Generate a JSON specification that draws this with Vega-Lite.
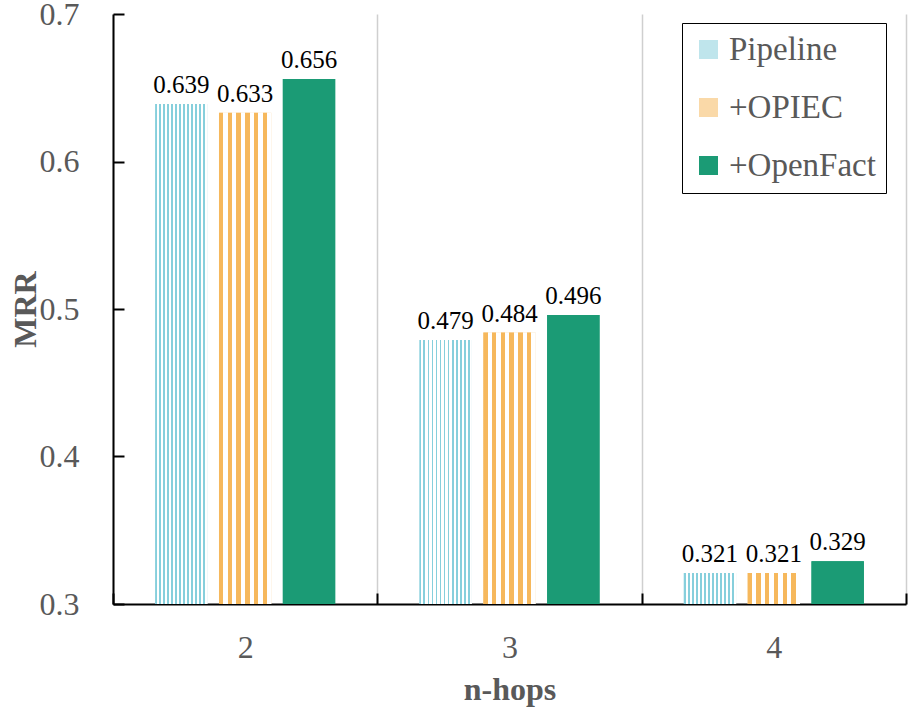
{
  "$schema": "https://vega.github.io/schema/vega-lite/v6.json",
  "width": 793,
  "height": 590,
  "autosize": {"type": "none"},
  "padding": {"left": 113, "top": 14, "right": 4, "bottom": 109},
  "background": "white",
  "config": {
    "view": {"stroke": null},
    "font": "Liberation Serif"
  },
  "data": {
    "values": [
      {"hops": "2", "method": "Pipeline", "mrr": 0.639},
      {"hops": "2", "method": "+OPIEC", "mrr": 0.633},
      {"hops": "2", "method": "+OpenFact", "mrr": 0.656},
      {"hops": "3", "method": "Pipeline", "mrr": 0.479},
      {"hops": "3", "method": "+OPIEC", "mrr": 0.484},
      {"hops": "3", "method": "+OpenFact", "mrr": 0.496},
      {"hops": "4", "method": "Pipeline", "mrr": 0.321},
      {"hops": "4", "method": "+OPIEC", "mrr": 0.321},
      {"hops": "4", "method": "+OpenFact", "mrr": 0.329}
    ]
  },
  "encoding": {
    "x": {
      "field": "hops",
      "type": "nominal",
      "scale": {"paddingInner": 0, "paddingOuter": 0},
      "axis": {
        "title": "n-hops",
        "titleFont": "Liberation Serif",
        "titleFontSize": 32,
        "titleFontWeight": "bold",
        "titleColor": "#595959",
        "titlePadding": 11,
        "labelAngle": 0,
        "labelFont": "Liberation Serif",
        "labelFontSize": 32,
        "labelColor": "#595959",
        "labelPadding": 39,
        "tickBand": "extent",
        "tickSize": -11,
        "tickWidth": 2,
        "tickColor": "black",
        "domainColor": "black",
        "domainWidth": 2,
        "grid": true,
        "gridColor": "#cfcfcf",
        "gridWidth": 1.5
      }
    },
    "xOffset": {
      "field": "method",
      "type": "nominal",
      "sort": ["Pipeline", "+OPIEC", "+OpenFact"],
      "scale": {"paddingInner": 0.18, "paddingOuter": 0.66}
    },
    "y": {
      "field": "mrr",
      "type": "quantitative",
      "scale": {"domain": [0.3, 0.7], "zero": false, "nice": false},
      "axis": {
        "title": "MRR",
        "titleFont": "Liberation Serif",
        "titleFontSize": 32,
        "titleFontWeight": "bold",
        "titleColor": "#595959",
        "titlePadding": -3,
        "values": [0.3, 0.4, 0.5, 0.6, 0.7],
        "format": ".1f",
        "labelFont": "Liberation Serif",
        "labelFontSize": 32,
        "labelColor": "#595959",
        "labelPadding": 45,
        "tickSize": -11,
        "tickWidth": 2,
        "tickColor": "black",
        "domainColor": "black",
        "domainWidth": 2,
        "grid": false
      }
    }
  },
  "layer": [
    {
      "mark": {"type": "bar"},
      "encoding": {
        "y2": {"datum": 0.3},
        "fill": {
          "field": "method",
          "type": "nominal",
          "scale": {
            "domain": ["Pipeline", "+OPIEC", "+OpenFact"],
            "range": ["#bfe5ec", "#fad9a8", "#1b9b75"]
          },
          "legend": {
            "title": null,
            "orient": "none",
            "legendX": 569,
            "legendY": 9,
            "padding": 10,
            "strokeColor": "black",
            "fillColor": "white",
            "symbolType": "square",
            "symbolSize": 361,
            "symbolStrokeWidth": 0,
            "labelFont": "Liberation Serif",
            "labelFontSize": 33,
            "labelColor": "#595959",
            "labelOffset": 4,
            "rowPadding": 24,
            "labelLimit": 300,
            "encode": {
              "symbols": {
                "update": {
                  "fill": [
                    {"test": "datum.value === 'Pipeline'", "value": {"gradient": "linear", "x1": 0, "y1": 0, "x2": 1, "y2": 0, "stops": [
                      {"offset": 0, "color": "#86cfdc"}, {"offset": 0.1, "color": "#86cfdc"}, {"offset": 0.1, "color": "#ffffff"}, {"offset": 0.2, "color": "#ffffff"},
                      {"offset": 0.2, "color": "#86cfdc"}, {"offset": 0.3, "color": "#86cfdc"}, {"offset": 0.3, "color": "#ffffff"}, {"offset": 0.4, "color": "#ffffff"},
                      {"offset": 0.4, "color": "#86cfdc"}, {"offset": 0.5, "color": "#86cfdc"}, {"offset": 0.5, "color": "#ffffff"}, {"offset": 0.6, "color": "#ffffff"},
                      {"offset": 0.6, "color": "#86cfdc"}, {"offset": 0.7, "color": "#86cfdc"}, {"offset": 0.7, "color": "#ffffff"}, {"offset": 0.8, "color": "#ffffff"},
                      {"offset": 0.8, "color": "#86cfdc"}, {"offset": 0.9, "color": "#86cfdc"}, {"offset": 0.9, "color": "#ffffff"}, {"offset": 1, "color": "#ffffff"}
                    ]}},
                    {"test": "datum.value === '+OPIEC'", "value": {"gradient": "linear", "x1": 0, "y1": 0, "x2": 1, "y2": 0, "stops": [
                      {"offset": 0, "color": "#f6b85c"}, {"offset": 0.17, "color": "#f6b85c"}, {"offset": 0.17, "color": "#ffffff"}, {"offset": 0.33, "color": "#ffffff"},
                      {"offset": 0.33, "color": "#f6b85c"}, {"offset": 0.5, "color": "#f6b85c"}, {"offset": 0.5, "color": "#ffffff"}, {"offset": 0.67, "color": "#ffffff"},
                      {"offset": 0.67, "color": "#f6b85c"}, {"offset": 0.83, "color": "#f6b85c"}, {"offset": 0.83, "color": "#ffffff"}, {"offset": 1, "color": "#ffffff"}
                    ]}},
                    {"value": "#1b9b75"}
                  ]
                }
              }
            }
          }
        }
      }
    },
    {
      "mark": {"type": "bar"},
      "encoding": {
        "y2": {"datum": 0.3},
        "fill": {
          "condition": [
            {"test": "datum.method === 'Pipeline'", "value": {"gradient": "linear", "x1": 0, "y1": 0, "x2": 1, "y2": 0, "stops": [
                {"offset": 0, "color": "#86cfdc"}, {"offset": 0.0346, "color": "#86cfdc"}, {"offset": 0.0346, "color": "#ffffff"}, {"offset": 0.0769, "color": "#ffffff"},
                {"offset": 0.0769, "color": "#86cfdc"}, {"offset": 0.1115, "color": "#86cfdc"}, {"offset": 0.1115, "color": "#ffffff"}, {"offset": 0.1538, "color": "#ffffff"},
                {"offset": 0.1538, "color": "#86cfdc"}, {"offset": 0.1885, "color": "#86cfdc"}, {"offset": 0.1885, "color": "#ffffff"}, {"offset": 0.2308, "color": "#ffffff"},
                {"offset": 0.2308, "color": "#86cfdc"}, {"offset": 0.2654, "color": "#86cfdc"}, {"offset": 0.2654, "color": "#ffffff"}, {"offset": 0.3077, "color": "#ffffff"},
                {"offset": 0.3077, "color": "#86cfdc"}, {"offset": 0.3423, "color": "#86cfdc"}, {"offset": 0.3423, "color": "#ffffff"}, {"offset": 0.3846, "color": "#ffffff"},
                {"offset": 0.3846, "color": "#86cfdc"}, {"offset": 0.4192, "color": "#86cfdc"}, {"offset": 0.4192, "color": "#ffffff"}, {"offset": 0.4615, "color": "#ffffff"},
                {"offset": 0.4615, "color": "#86cfdc"}, {"offset": 0.4962, "color": "#86cfdc"}, {"offset": 0.4962, "color": "#ffffff"}, {"offset": 0.5385, "color": "#ffffff"},
                {"offset": 0.5385, "color": "#86cfdc"}, {"offset": 0.5731, "color": "#86cfdc"}, {"offset": 0.5731, "color": "#ffffff"}, {"offset": 0.6154, "color": "#ffffff"},
                {"offset": 0.6154, "color": "#86cfdc"}, {"offset": 0.65, "color": "#86cfdc"}, {"offset": 0.65, "color": "#ffffff"}, {"offset": 0.6923, "color": "#ffffff"},
                {"offset": 0.6923, "color": "#86cfdc"}, {"offset": 0.7269, "color": "#86cfdc"}, {"offset": 0.7269, "color": "#ffffff"}, {"offset": 0.7692, "color": "#ffffff"},
                {"offset": 0.7692, "color": "#86cfdc"}, {"offset": 0.8038, "color": "#86cfdc"}, {"offset": 0.8038, "color": "#ffffff"}, {"offset": 0.8462, "color": "#ffffff"},
                {"offset": 0.8462, "color": "#86cfdc"}, {"offset": 0.8808, "color": "#86cfdc"}, {"offset": 0.8808, "color": "#ffffff"}, {"offset": 0.9231, "color": "#ffffff"},
                {"offset": 0.9231, "color": "#86cfdc"}, {"offset": 0.9577, "color": "#86cfdc"}, {"offset": 0.9577, "color": "#ffffff"}, {"offset": 1, "color": "#ffffff"}
              ]}},
            {"test": "datum.method === '+OPIEC'", "value": {"gradient": "linear", "x1": 0, "y1": 0, "x2": 1, "y2": 0, "stops": [
                {"offset": 0, "color": "#f6b85c"}, {"offset": 0.0833, "color": "#f6b85c"}, {"offset": 0.0833, "color": "#ffffff"}, {"offset": 0.1667, "color": "#ffffff"},
                {"offset": 0.1667, "color": "#f6b85c"}, {"offset": 0.25, "color": "#f6b85c"}, {"offset": 0.25, "color": "#ffffff"}, {"offset": 0.3333, "color": "#ffffff"},
                {"offset": 0.3333, "color": "#f6b85c"}, {"offset": 0.4167, "color": "#f6b85c"}, {"offset": 0.4167, "color": "#ffffff"}, {"offset": 0.5, "color": "#ffffff"},
                {"offset": 0.5, "color": "#f6b85c"}, {"offset": 0.5833, "color": "#f6b85c"}, {"offset": 0.5833, "color": "#ffffff"}, {"offset": 0.6667, "color": "#ffffff"},
                {"offset": 0.6667, "color": "#f6b85c"}, {"offset": 0.75, "color": "#f6b85c"}, {"offset": 0.75, "color": "#ffffff"}, {"offset": 0.8333, "color": "#ffffff"},
                {"offset": 0.8333, "color": "#f6b85c"}, {"offset": 0.9167, "color": "#f6b85c"}, {"offset": 0.9167, "color": "#ffffff"}, {"offset": 1, "color": "#ffffff"}
              ]}}
          ],
          "value": "#1b9b75"
        }
      }
    },
    {
      "mark": {"type": "text", "baseline": "bottom", "dy": -6, "font": "Liberation Serif", "fontSize": 25, "color": "black"},
      "encoding": {
        "text": {"field": "mrr", "type": "quantitative", "format": ".3f"}
      }
    }
  ]
}
